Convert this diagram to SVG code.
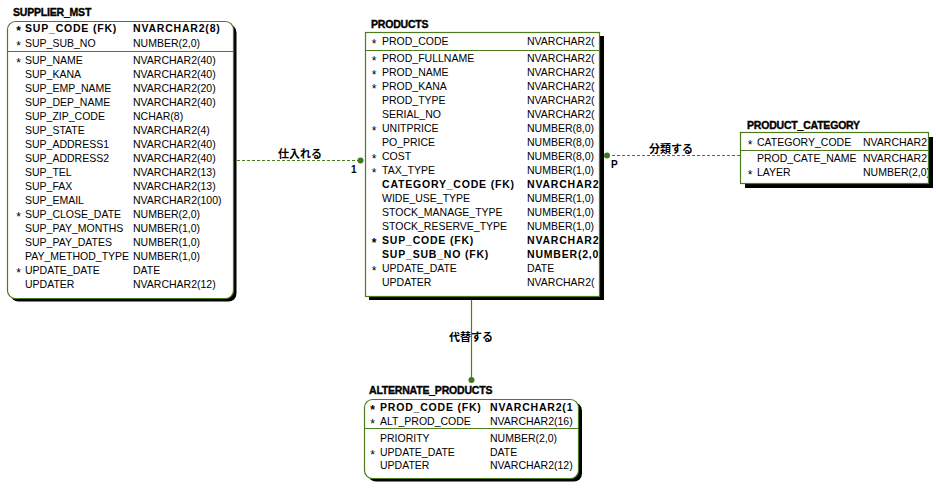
<svg xmlns="http://www.w3.org/2000/svg" width="936" height="488" viewBox="0 0 936 488">
<style>
  .t{font-family:"Liberation Sans",Arial,sans-serif;font-size:10.5px;fill:#000}
  .b{font-weight:bold;letter-spacing:0.8px}
  .st{font-family:"Liberation Sans",Arial,sans-serif;font-size:12px;fill:#000;text-anchor:middle}
  .title{font-family:"Liberation Sans",Arial,sans-serif;font-size:10.5px;font-weight:bold;fill:#000;stroke:#000;stroke-width:0.35px;letter-spacing:-0.2px}
  .box{fill:#fff;stroke:#4d7c1e;stroke-width:1.2}
  .shadow{fill:#000}
  .sep{stroke:#4d7c1e;stroke-width:1}
  .lbl{font-family:"Noto Sans CJK JP","Noto Sans CJK SC",sans-serif;font-size:11px;font-weight:bold;fill:#000;text-anchor:middle}
  .card{font-family:"Liberation Sans",Arial,sans-serif;font-size:10px;font-weight:bold;fill:#000}
  .dash{stroke:#4d7c1e;stroke-width:1;stroke-dasharray:3 2;fill:none}
  .solid{stroke:#4d7c1e;stroke-width:1.2;fill:none}
  .dot{fill:#3f7a1a}
</style>
<defs>
  <clipPath id="cpProd"><rect x="365" y="32" width="234" height="264"/></clipPath>
  <clipPath id="cpCat"><rect x="741" y="132" width="187" height="51"/></clipPath>
  <clipPath id="cpAlt"><rect x="365" y="399" width="213" height="79"/></clipPath>
</defs>
<rect width="936" height="488" fill="#fff"/>

<g id="connectors">
  <line class="dash" x1="237" y1="160.5" x2="360" y2="160.5"/>
  <circle class="dot" cx="360.5" cy="160.5" r="3"/>
  <text class="lbl" x="300" y="158">仕入れる</text>
  <text class="card" x="351" y="173">1</text>

  <line class="dash" x1="607" y1="155.5" x2="741" y2="155.5"/>
  <circle class="dot" cx="607" cy="155.5" r="3"/>
  <text class="lbl" x="671" y="153">分類する</text>
  <text class="card" x="611" y="168">P</text>

  <line class="solid" x1="471.5" y1="300" x2="471.5" y2="380"/>
  <circle class="dot" cx="471.5" cy="380" r="3"/>
  <text class="lbl" x="471" y="341">代替する</text>
</g>

<g id="supplier_mst">
  <text class="title" x="13" y="16">SUPPLIER_MST</text>
  <rect class="shadow" x="10.5" y="24.5" width="226" height="277" rx="8"/>
  <rect class="box" x="7.5" y="21.5" width="226" height="277" rx="8"/>
  <line class="sep" x1="7.5" y1="51.5" x2="233.5" y2="51.5"/>
  <text class="st" x="18.5" y="35" font-weight="bold">*</text><text class="t b" x="25" y="32">SUP_CODE (FK)</text><text class="t b" x="133" y="32">NVARCHAR2(8)</text>
  <text class="st" x="18.5" y="50">*</text><text class="t" x="25" y="47">SUP_SUB_NO</text><text class="t" x="133" y="47">NUMBER(2,0)</text>
  <text class="st" x="18.5" y="67">*</text><text class="t" x="25" y="64">SUP_NAME</text><text class="t" x="133" y="64">NVARCHAR2(40)</text>
  <text class="t" x="25" y="78">SUP_KANA</text><text class="t" x="133" y="78">NVARCHAR2(40)</text>
  <text class="t" x="25" y="92">SUP_EMP_NAME</text><text class="t" x="133" y="92">NVARCHAR2(20)</text>
  <text class="t" x="25" y="106">SUP_DEP_NAME</text><text class="t" x="133" y="106">NVARCHAR2(40)</text>
  <text class="t" x="25" y="120">SUP_ZIP_CODE</text><text class="t" x="133" y="120">NCHAR(8)</text>
  <text class="t" x="25" y="134">SUP_STATE</text><text class="t" x="133" y="134">NVARCHAR2(4)</text>
  <text class="t" x="25" y="148">SUP_ADDRESS1</text><text class="t" x="133" y="148">NVARCHAR2(40)</text>
  <text class="t" x="25" y="162">SUP_ADDRESS2</text><text class="t" x="133" y="162">NVARCHAR2(40)</text>
  <text class="t" x="25" y="176">SUP_TEL</text><text class="t" x="133" y="176">NVARCHAR2(13)</text>
  <text class="t" x="25" y="190">SUP_FAX</text><text class="t" x="133" y="190">NVARCHAR2(13)</text>
  <text class="t" x="25" y="204">SUP_EMAIL</text><text class="t" x="133" y="204">NVARCHAR2(100)</text>
  <text class="st" x="18.5" y="221">*</text><text class="t" x="25" y="218">SUP_CLOSE_DATE</text><text class="t" x="133" y="218">NUMBER(2,0)</text>
  <text class="t" x="25" y="232">SUP_PAY_MONTHS</text><text class="t" x="133" y="232">NUMBER(1,0)</text>
  <text class="t" x="25" y="246">SUP_PAY_DATES</text><text class="t" x="133" y="246">NUMBER(1,0)</text>
  <text class="t" x="25" y="260">PAY_METHOD_TYPE</text><text class="t" x="133" y="260">NUMBER(1,0)</text>
  <text class="st" x="18.5" y="277">*</text><text class="t" x="25" y="274">UPDATE_DATE</text><text class="t" x="133" y="274">DATE</text>
  <text class="t" x="25" y="288">UPDATER</text><text class="t" x="133" y="288">NVARCHAR2(12)</text>
</g>

<g id="products">
  <text class="title" x="371" y="28">PRODUCTS</text>
  <rect class="shadow" x="369" y="36" width="235" height="264"/>
  <rect class="box" x="365.5" y="32.5" width="234" height="264"/>
  <line class="sep" x1="365.5" y1="50.5" x2="599.5" y2="50.5"/>
  <g clip-path="url(#cpProd)">
  <text class="st" x="374" y="48">*</text><text class="t" x="382" y="45">PROD_CODE</text><text class="t" x="527" y="45">NVARCHAR2(</text>
  <text class="st" x="374" y="65">*</text><text class="t" x="382" y="62">PROD_FULLNAME</text><text class="t" x="527" y="62">NVARCHAR2(</text>
  <text class="st" x="374" y="79">*</text><text class="t" x="382" y="76">PROD_NAME</text><text class="t" x="527" y="76">NVARCHAR2(</text>
  <text class="st" x="374" y="93">*</text><text class="t" x="382" y="90">PROD_KANA</text><text class="t" x="527" y="90">NVARCHAR2(</text>
  <text class="t" x="382" y="104">PROD_TYPE</text><text class="t" x="527" y="104">NVARCHAR2(</text>
  <text class="t" x="382" y="118">SERIAL_NO</text><text class="t" x="527" y="118">NVARCHAR2(</text>
  <text class="st" x="374" y="135">*</text><text class="t" x="382" y="132">UNITPRICE</text><text class="t" x="527" y="132">NUMBER(8,0)</text>
  <text class="t" x="382" y="146">PO_PRICE</text><text class="t" x="527" y="146">NUMBER(8,0)</text>
  <text class="st" x="374" y="163">*</text><text class="t" x="382" y="160">COST</text><text class="t" x="527" y="160">NUMBER(8,0)</text>
  <text class="st" x="374" y="177">*</text><text class="t" x="382" y="174">TAX_TYPE</text><text class="t" x="527" y="174">NUMBER(1,0)</text>
  <text class="t b" x="382" y="188">CATEGORY_CODE (FK)</text><text class="t b" x="527" y="188">NVARCHAR2</text>
  <text class="t" x="382" y="202">WIDE_USE_TYPE</text><text class="t" x="527" y="202">NUMBER(1,0)</text>
  <text class="t" x="382" y="216">STOCK_MANAGE_TYPE</text><text class="t" x="527" y="216">NUMBER(1,0)</text>
  <text class="t" x="382" y="230">STOCK_RESERVE_TYPE</text><text class="t" x="527" y="230">NUMBER(1,0)</text>
  <text class="st" x="374" y="247" font-weight="bold">*</text><text class="t b" x="382" y="244">SUP_CODE (FK)</text><text class="t b" x="527" y="244">NVARCHAR2</text>
  <text class="t b" x="382" y="258">SUP_SUB_NO (FK)</text><text class="t b" x="527" y="258">NUMBER(2,0</text>
  <text class="st" x="374" y="275">*</text><text class="t" x="382" y="272">UPDATE_DATE</text><text class="t" x="527" y="272">DATE</text>
  <text class="t" x="382" y="286">UPDATER</text><text class="t" x="527" y="286">NVARCHAR2(</text>
  </g>
</g>

<g id="product_category">
  <text class="title" x="747" y="129">PRODUCT_CATEGORY</text>
  <rect class="shadow" x="745" y="137" width="188" height="51"/>
  <rect class="box" x="740.5" y="132.5" width="188" height="51"/>
  <line class="sep" x1="740.5" y1="150.5" x2="928.5" y2="150.5"/>
  <g clip-path="url(#cpCat)">
  <text class="st" x="750" y="148.5">*</text><text class="t" x="757" y="145.5">CATEGORY_CODE</text><text class="t" x="863" y="145.5">NVARCHAR2</text>
  <text class="t" x="757" y="162">PROD_CATE_NAME</text><text class="t" x="863" y="162">NVARCHAR2</text>
  <text class="st" x="750" y="179">*</text><text class="t" x="757" y="176">LAYER</text><text class="t" x="863" y="176">NUMBER(2,0)</text>
  </g>
</g>

<g id="alternate_products">
  <text class="title" x="369" y="394">ALTERNATE_PRODUCTS</text>
  <rect class="shadow" x="368" y="402.5" width="214" height="79" rx="8"/>
  <rect class="box" x="364.5" y="399.5" width="214" height="79" rx="8"/>
  <line class="sep" x1="364.5" y1="428.5" x2="578.5" y2="428.5"/>
  <g clip-path="url(#cpAlt)">
  <text class="st" x="372.5" y="414" font-weight="bold">*</text><text class="t b" x="380" y="411">PROD_CODE (FK)</text><text class="t b" x="490" y="411">NVARCHAR2(1</text>
  <text class="st" x="372.5" y="428">*</text><text class="t" x="380" y="425">ALT_PROD_CODE</text><text class="t" x="490" y="425">NVARCHAR2(16)</text>
  <text class="t" x="380" y="441.5">PRIORITY</text><text class="t" x="490" y="441.5">NUMBER(2,0)</text>
  <text class="st" x="372.5" y="458.5">*</text><text class="t" x="380" y="455.5">UPDATE_DATE</text><text class="t" x="490" y="455.5">DATE</text>
  <text class="t" x="380" y="469">UPDATER</text><text class="t" x="490" y="469">NVARCHAR2(12)</text>
  </g>
</g>
</svg>
